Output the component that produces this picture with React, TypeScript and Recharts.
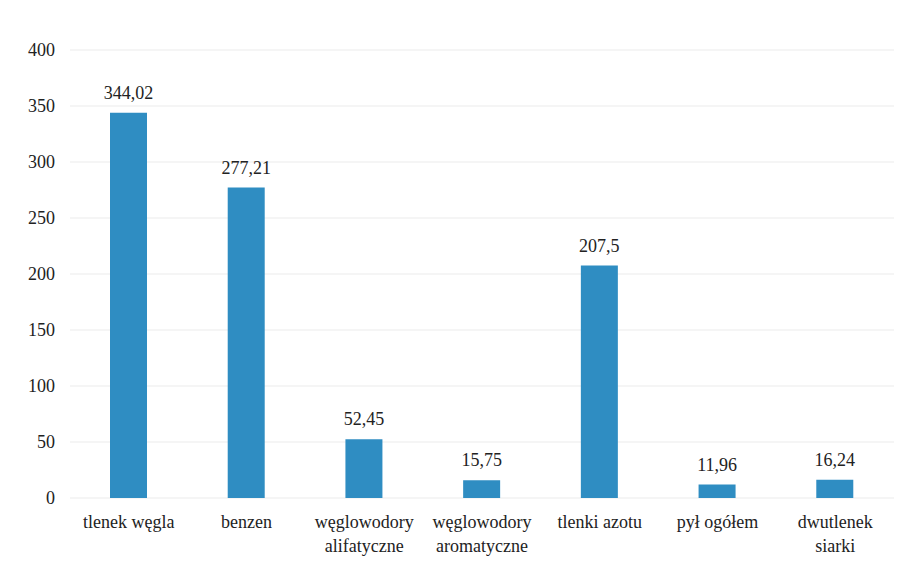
import React from 'react';
import { BarChart, Bar, XAxis, YAxis, CartesianGrid, LabelList } from 'recharts';

const categories = [
  'tlenek węgla',
  'benzen',
  'węglowodory\nalifatyczne',
  'węglowodory\naromatyczne',
  'tlenki azotu',
  'pył ogółem',
  'dwutlenek\nsiarki',
];
const values = [344.02, 277.21, 52.45, 15.75, 207.5, 11.96, 16.24];
const yTicks = [0, 50, 100, 150, 200, 250, 300, 350, 400];

const data = categories.map((name, i) => ({ name, value: values[i] }));

const FONT = "'Times New Roman', 'Liberation Serif', Times, 'DejaVu Serif', 'Noto Serif', serif";

const CatTick = (props: any) => {
  const { x, y, payload } = props;
  const lines = String(payload.value).split('\n');
  return (
    <g transform={`translate(${x},${y})`}>
      {lines.map((l: string, i: number) => (
        <text
          key={i}
          x={0}
          y={i * 24}
          dy={22}
          textAnchor="middle"
          fill="#222"
          style={{ fontSize: 18, fontFamily: FONT }}
        >
          {l}
        </text>
      ))}
    </g>
  );
};

const YTick = (props: any) => {
  const { x, y, payload } = props;
  return (
    <text
      x={x}
      y={y}
      dy={6}
      textAnchor="end"
      fill="#222"
      style={{ fontSize: 18, fontFamily: FONT }}
    >
      {payload.value}
    </text>
  );
};

export default function App() {
  return (
    <div style={{ position: 'absolute', left: 0, top: 0, background: '#fff', fontFamily: FONT }}>
      <BarChart
        width={906}
        height={566}
        data={data}
        margin={{ top: 50, right: 12, bottom: 8, left: 8 }}
      >
        <CartesianGrid vertical={false} stroke="#ebebeb" />
        <XAxis
          dataKey="name"
          axisLine={false}
          tickLine={false}
          interval={0}
          height={60}
          tick={<CatTick />}
        />
        <YAxis
          domain={[0, 400]}
          ticks={yTicks}
          axisLine={false}
          tickLine={false}
          width={62}
          tickMargin={9}
          tick={<YTick />}
        />
        <Bar dataKey="value" fill="#2f8dc2" barSize={37} isAnimationActive={false}>
          <LabelList
            dataKey="value"
            position="top"
            offset={14}
            formatter={(v: any) => String(v).replace('.', ',')}
            style={{ fill: '#222', fontSize: 18, fontFamily: FONT }}
          />
        </Bar>
      </BarChart>
    </div>
  );
}
